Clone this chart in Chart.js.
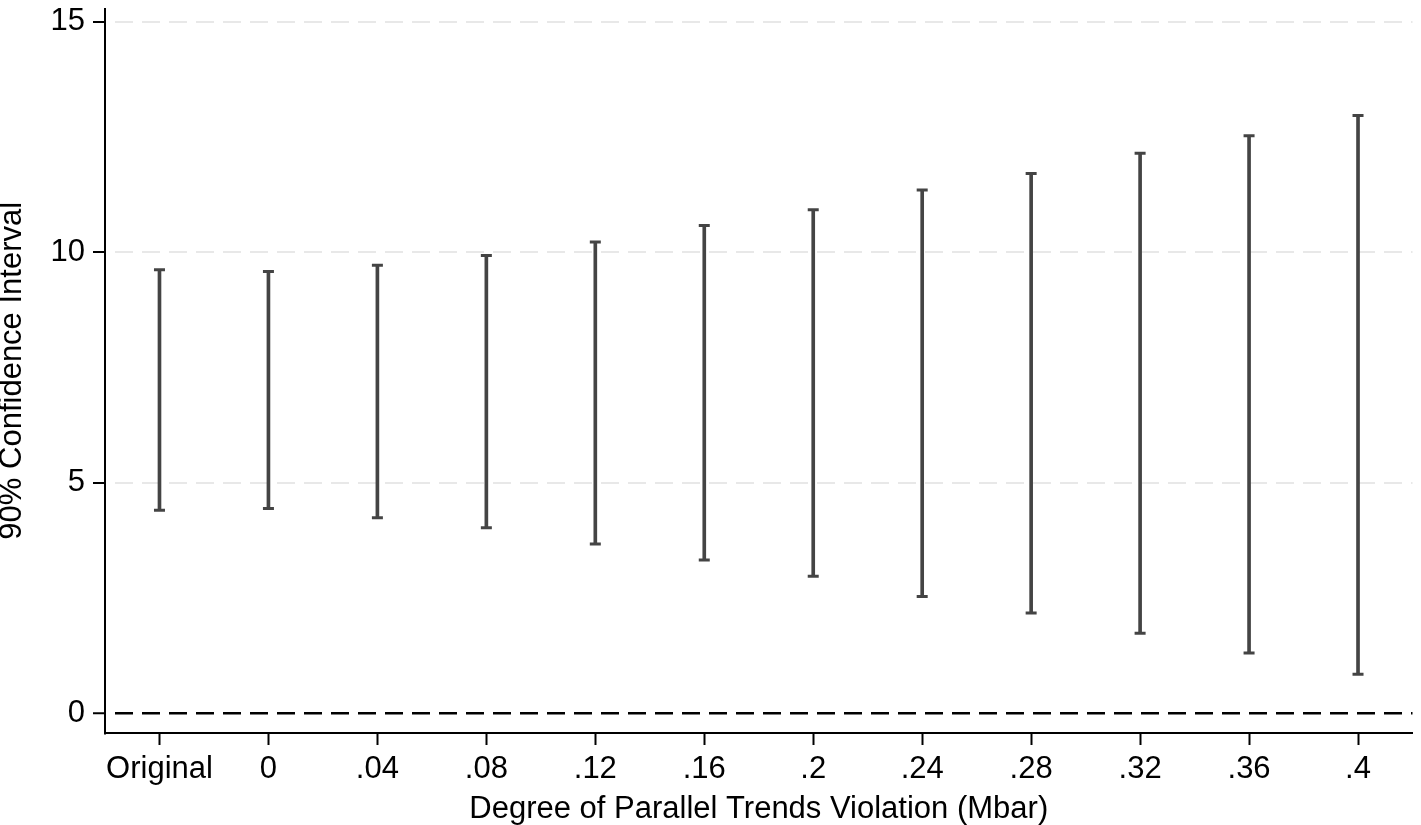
<!DOCTYPE html>
<html>
<head>
<meta charset="utf-8">
<script src="https://cdn.jsdelivr.net/npm/chart.js@4/dist/chart.umd.min.js"></script>
<style>
  html, body { margin: 0; padding: 0; background: #fff; }
  #wrap { width: 1421px; height: 825px; }
</style>
</head>
<body>
<div id="wrap"><canvas id="ciChart"></canvas></div>
<script>
// categories on the x axis (Mbar values)
const mbarLabels = ['Original', '0', '.04', '.08', '.12', '.16', '.2', '.24', '.28', '.32', '.36', '.4'];
// upper and lower bounds of the 90% CI
const ciUpper = [9.62, 9.58, 9.72, 9.93, 10.22, 10.58, 10.92, 11.35, 11.71, 12.15, 12.53, 12.97];
const ciLower = [4.40, 4.44, 4.24, 4.02, 3.67, 3.32, 2.97, 2.53, 2.17, 1.73, 1.30, 0.84];
// y axis ticks
const yTicks = [0, 5, 10, 15];

const barColor = '#444444';
const fontFam = '"Liberation Sans", Arial, Helvetica, sans-serif';

const ranges = ciLower.map(function (lo, i) { return [lo, ciUpper[i]]; });

const capDataset = function (vals) {
    return {
        type: 'line',
        data: vals,
        showLine: false,
        pointStyle: 'line',
        pointRadius: 5.5,
        pointHoverRadius: 5.5,
        pointBorderWidth: 3,
        pointBorderColor: barColor,
        borderColor: barColor
    };
};

const ciChart = new Chart(document.getElementById('ciChart'), {
    type: 'bar',
    data: {
        labels: mbarLabels,
        datasets: [{
            data: ranges,
            backgroundColor: barColor,
            barThickness: 3,
            borderWidth: 0
        },
            capDataset(ciUpper),
            capDataset(ciLower)
        ]
    },
    options: {
        responsive: true,
        maintainAspectRatio: false,
        animation: false,
        layout: { padding: { top: 1, right: -5, bottom: 0, left: 0 } },
        plugins: {
            legend: { display: false },
            tooltip: { enabled: false }
        },
        scales: {
            x: {
                offset: true,
                grid: {
                    offset: false,
                    drawOnChartArea: false,
                    drawTicks: true,
                    tickLength: 12,
                    tickColor: '#000',
                    tickWidth: 2
                },
                border: { display: true, color: '#000', width: 2 },
                ticks: {
                    color: '#000',
                    padding: 6,
                    maxRotation: 0,
                    autoSkip: false,
                    font: { family: fontFam, size: 31 }
                },
                title: {
                    display: true,
                    text: 'Degree of Parallel Trends Violation (Mbar)',
                    color: '#000',
                    padding: { top: 0, bottom: -2 },
                    font: { family: fontFam, size: 31, lineHeight: 1.1 }
                },
                afterFit: function (s) {
                    s.height = 825 - 732 - 1;
                    s.paddingLeft = 0;
                    s.paddingRight = 0;
                }
            },
            y: {
                min: -0.434,
                max: 15.29,
                afterBuildTicks: function (s) {
                    s.ticks = yTicks.map(function (v) { return { value: v }; });
                },
                grid: {
                    drawTicks: true,
                    tickLength: 12,
                    tickColor: '#000',
                    tickWidth: 2,
                    color: function (c) { return c.tick && c.tick.value === 0 ? '#000' : '#e8e8e8'; },
                    lineWidth: function (c) { return c.tick && c.tick.value === 0 ? 2.5 : 2; }
                },
                border: {
                    display: true,
                    color: '#000',
                    width: 2,
                    dash: [18, 9],
                    dashOffset: 18
                },
                ticks: {
                    color: '#000',
                    padding: 8,
                    font: { family: fontFam, size: 31 }
                },
                title: {
                    display: true,
                    text: '90% Confidence Interval',
                    color: '#000',
                    padding: { top: -3, bottom: 0 },
                    font: { family: fontFam, size: 31, lineHeight: 1 }
                },
                afterFit: function (s) {
                    s.width = 105;
                    s.paddingTop = 0;
                    s.paddingBottom = 0;
                }
            }
        }
    }
});
</script>
</body>
</html>
